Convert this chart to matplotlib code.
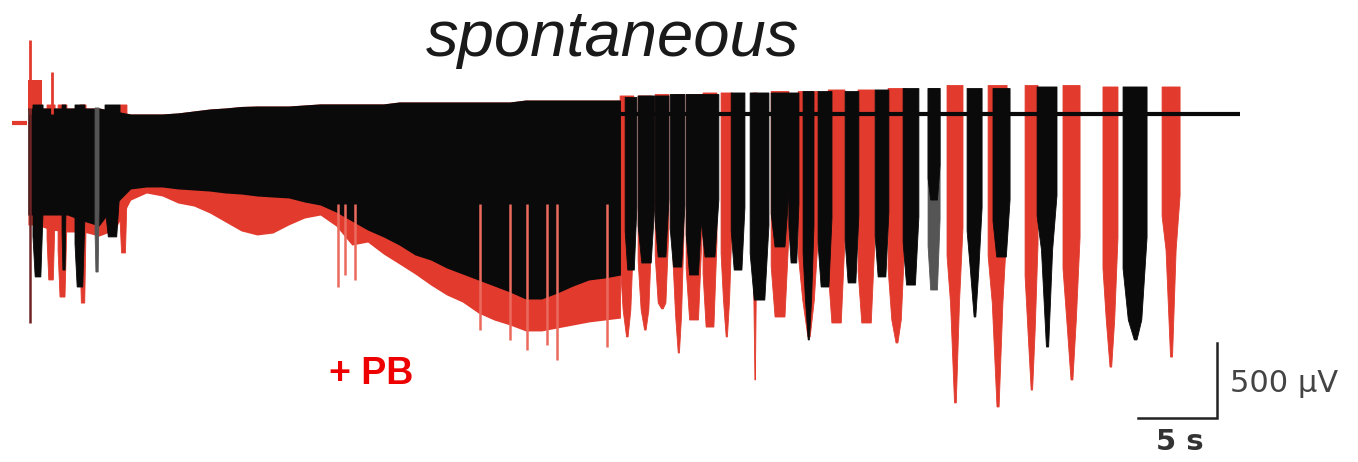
import numpy as np
import matplotlib.pyplot as plt

RED = "#e23b2e"
RED_LIGHT = "#ea6a5e"
BLACK = "#0a0a0a"

# --- continuous phase (time in s, amplitude in uV) ---
env_t = [0.5, 1, 2, 3, 4, 5, 6, 7, 8, 9, 10, 11, 12, 13, 14, 15, 16, 17, 18, 19,
         20, 21, 22, 23, 24, 25, 26, 27, 28, 29, 30, 31, 32, 33, 34, 35, 36, 37, 38]
black_top = [40, 40, 40, 40, 40, 40, 20, 0, 0, 0, 7, 20, 33, 40, 50, 53, 53, 53, 60, 67,
             67, 67, 67, 67, 80, 80, 80, 80, 80, 80, 80, 80, 93, 93, 93, 93, 93, 93, 93]
black_low = [-674, -674, -674, -674, -714, -747, -607, -500, -487, -487, -500, -507, -514,
             -527, -534, -547, -554, -560, -587, -607, -654, -714, -774, -820, -874, -940,
             -974, -1027, -1067, -1107, -1147, -1187, -1234, -1234, -1194, -1147, -1107,
             -1094, -1074]
red_low = [-740, -740, -774, -787, -787, -814, -774, -574, -527, -547, -594, -614, -660,
           -720, -780, -807, -794, -740, -694, -674, -747, -874, -854, -934, -1000, -1067,
           -1141, -1207, -1254, -1327, -1374, -1407, -1447, -1447, -1427, -1407, -1387,
           -1374, -1361]

# single deep deflections inside the continuous phase
red_spike_t = [20.13, 20.57, 21.20, 29.11, 31.01, 32.09, 33.35, 33.99, 37.15]
red_spike_v = [-1154, -1074, -1107, -1441, -1507, -1574, -1541, -1641, -1554]

# early discharges at onset: (start, end, lowest value)
early_black = [(0.82, 1.46, -1087), (2.66, 2.91, -1041), (3.48, 4.11, -1154), (5.38, 6.33, -820)]
early_red = [(1.71, 2.22, -1107), (2.41, 2.97, -1221), (3.80, 4.18, -1261), (6.33, 6.77, -927)]
early_grey = [(4.75, 5.00, -1054)]

# --- discrete bursts: start, end, top, body depth, tail depth ---
red_start = [37.98, 39.12, 40.20, 41.34, 42.16, 43.23, 44.37, 46.39, 47.54, 49.25, 51.15,
             53.04, 54.94, 58.67, 61.27, 63.61, 66.01, 68.54, 72.28]
red_end = [38.85, 39.99, 41.07, 42.02, 43.16, 44.11, 45.06, 46.65, 48.66, 50.56, 52.21,
           54.11, 56.01, 59.68, 62.47, 64.43, 67.09, 69.49, 73.42]
red_top = [120, 120, 130, 130, 130, 140, 140, 140, 150, 150, 160, 160, 170, 190, 190, 190,
           190, 180, 180]
red_body = [-1307, -1307, -1261, -1341, -1374, -1421, -1241, -1241, -1354, -1241, -1394,
            -1394, -1374, -1261, -1261, -1441, -1374, -1374, -907]
red_tail = [-1487, -1441, -1300, -1594, -1374, -1421, -1487, -1774, -1354, -1487, -1394,
            -1394, -1527, -1927, -1954, -1841, -1774, -1688, -1621]

black_start = [38.30, 39.12, 40.20, 41.15, 42.16, 43.11, 45.01, 46.21, 47.54, 48.66, 49.56,
               50.51, 52.22, 54.12, 55.89, 59.94, 61.58, 64.37, 69.81]
black_end = [39.04, 40.18, 41.07, 42.08, 43.16, 44.23, 45.88, 47.40, 48.66, 49.30, 50.25,
             51.39, 53.09, 54.99, 56.89, 60.89, 62.66, 65.63, 71.33]
black_top_b = [110, 120, 120, 130, 130, 130, 140, 140, 140, 140, 150, 150, 150, 160, 170,
               170, 170, 180, 180]
black_body = [-1041, -994, -954, -1021, -1074, -954, -1041, -1241, -887, -994, -1241, -1154,
              -1127, -1087, -1141, -1041, -954, -907, -1374]
black_tail = [-1041, -994, -954, -1021, -1074, -954, -1041, -1241, -887, -994, -1507, -1154,
              -1127, -1087, -1141, -1354, -954, -1554, -1507]

# burst whose lower half is grey: start, end, top, black depth, grey depth
grey_burst = (57.47, 58.23, 170, -574, -1174)

baseline_t = [38.0, 77.2]
baseline_v = [0, 0]

scale_t, scale_v = 5, 500          # s, uV
scale_corner = (75.76, -2028)


def draw_burst(ax, t0, t1, top, body, tail, color):
    # wide head, tapering body, narrow tail
    w = t1 - t0
    xs = [t0, t1, t1, t0 + 0.78 * w, t0 + 0.58 * w, t0 + 0.47 * w,
          t0 + 0.22 * w, t0]
    ys = [top, top, 0.6 * body, body, tail, tail, body, 0.75 * body]
    ax.fill(xs, ys, color=color, lw=0.6, ec=color)


fig = plt.figure(figsize=(13.58, 4.62), dpi=100)
ax = fig.add_axes([0, 0, 1, 1])
ax.set_xlim(-1.266, 84.68)
ax.set_ylim(-2321, 760)
ax.axis("off")

# red trace (behind)
ax.fill_between(env_t, black_top, red_low, color=RED, lw=0)
ax.vlines(red_spike_t, -600, red_spike_v, color=RED_LIGHT, lw=1.8)
for t0, t1, lo in early_red:
    draw_burst(ax, t0, t1, 60, lo, lo, RED)
ax.fill_between([0.51, 1.39], 27, 227, color=RED, lw=0)
ax.vlines(2.03, 0, 280, color=RED, lw=2)
ax.vlines(0.63, 0, 494, color=RED, lw=2)
ax.hlines(-60, -0.5, 0.45, color=RED, lw=3)
for i in range(len(red_start)):
    draw_burst(ax, red_start[i], red_end[i], red_top[i], red_body[i], red_tail[i], RED)

# black trace (front)
ax.fill_between(env_t, black_top, black_low, color=BLACK, lw=0)
for t0, t1, lo in early_black:
    draw_burst(ax, t0, t1, 60, lo, lo, BLACK)
for t0, t1, lo in early_grey:
    draw_burst(ax, t0, t1, 40, lo, lo, "#555555")
ax.vlines(0.63, -1394, 40, color="#6e2424", lw=1.8)
ax.plot(baseline_t, baseline_v, color=BLACK, lw=3, solid_capstyle="butt")
for i in range(len(black_start)):
    draw_burst(ax, black_start[i], black_end[i], black_top_b[i], black_body[i],
               black_tail[i], BLACK)
g0, g1, gtop, gbody, gtail = grey_burst
draw_burst(ax, g0, g1, gtop, gtail, gtail, "#555555")
draw_burst(ax, g0, g1, gtop, gbody, gbody, BLACK)

# scale bar
cx, cy = scale_corner
ax.plot([cx - scale_t, cx, cx], [cy, cy, cy + scale_v], color="#222222", lw=1.8,
        solid_joinstyle="miter")

fig.text(613 / 1358, 1 - 39 / 462, "spontaneous", ha="center", va="center",
         fontsize=47, style="italic", family="Liberation Sans", color="#1a1a1a")
fig.text(371 / 1358, 1 - 374 / 462, "+ PB", ha="center", va="center",
         fontsize=27, weight="bold", family="Liberation Sans", color="#ee0000")
fig.text(1230 / 1358, 1 - 384 / 462, "500 µV", ha="left", va="center",
         fontsize=22, family="DejaVu Sans", color="#444444")
fig.text(1180 / 1358, 1 - 442 / 462, "5 s", ha="center", va="center",
         fontsize=21, weight="bold", family="DejaVu Sans", color="#333333")

fig.savefig("out.png", dpi=100, facecolor="white")
